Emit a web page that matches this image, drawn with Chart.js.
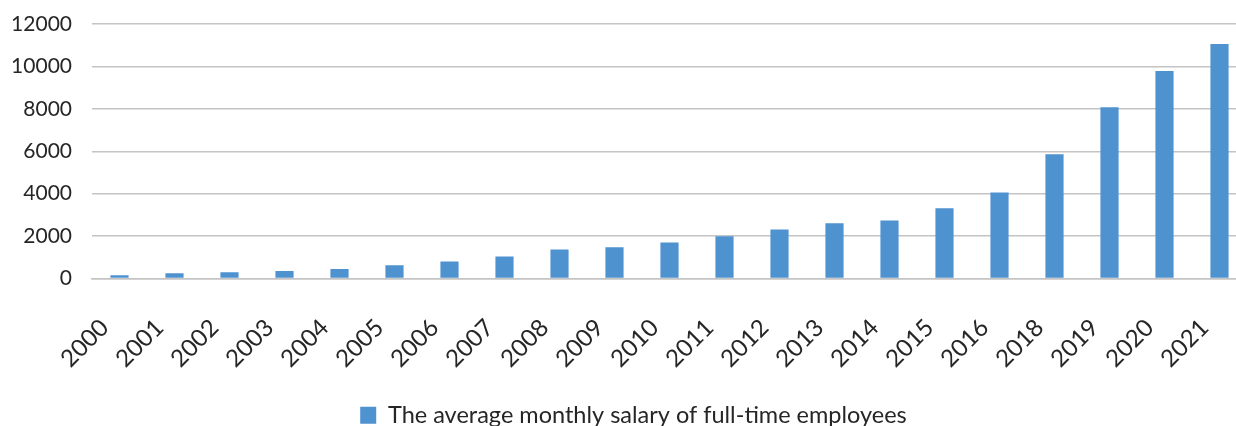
<!DOCTYPE html>
<html>
<head>
<meta charset="utf-8">
<script src="https://cdn.jsdelivr.net/npm/chart.js@4.4.1/dist/chart.umd.min.js"></script>
<style>
    html, body { margin: 0; padding: 0; background: #ffffff; overflow: hidden; }
    .chart-box { width: 1247px; height: 426px; }
</style>
</head>
<body>

<div class="chart-box">
    <canvas id="salaryChart"></canvas>
</div>

<script>

/* =========================
   DATA
========================= */

const years = [
    "2000", "2001", "2002", "2003", "2004", "2005", "2006",
    "2007", "2008", "2009", "2010", "2011", "2012", "2013",
    "2014", "2015", "2016", "2018", "2019", "2020", "2021"
];

const salary = [
    150, 250, 300, 350, 450, 620, 800,
    1040, 1370, 1470, 1700, 1990, 2310, 2600,
    2740, 3310, 4060, 5860, 8080, 9780, 11060
];

const seriesLabel = "The average monthly salary of full-time employees";

const yTicks = [0, 2000, 4000, 6000, 8000, 10000, 12000];

/* =========================
   LEGEND SHIFT
========================= */

const legendShift = {
    id: "legendShift",
    afterLayout(chart){
        chart.legend.left += 10;
        chart.legend.right += 10;
        chart.legend.top += 11;
        chart.legend.bottom += 11;
    }
};

/* =========================
   CHART
========================= */

const textColor = "#262626";
const gridColor = "#c4c4c4";

new Chart(document.getElementById("salaryChart"), {

    type: "bar",

    data: {
        labels: years,
        datasets: [{
            label: seriesLabel,
            data: salary,
            backgroundColor: "#4e92d0",
            borderWidth: 0,
            categoryPercentage: 1,
            barPercentage: 0.33
        }]
    },

    options: {

        responsive: true,
        maintainAspectRatio: false,
        animation: false,

        layout: {
            padding: { top: 24, right: 0, bottom: 0, left: 0 }
        },

        plugins: {
            tooltip: { enabled: false },
            legend: {
                position: "bottom",
                labels: {
                    color: textColor,
                    font: { family: "Lato", size: 23.5 },
                    boxWidth: 16,
                    boxHeight: 17,
                    padding: 6
                }
            }
        },

        scales: {

            x: {
                grid: { display: false },
                border: { color: gridColor, width: 1.5 },
                ticks: {
                    color: textColor,
                    font: { family: "Lato", size: 24 },
                    maxRotation: 45,
                    minRotation: 45,
                    labelOffset: -15,
                    padding: 27,
                    autoSkip: false
                },
                afterFit(scale){
                    scale.height = 108;
                    scale.paddingLeft = 0;
                    scale.paddingRight = 0;
                }
            },

            y: {
                min: yTicks[0],
                max: yTicks[yTicks.length - 1],
                afterBuildTicks(scale){
                    scale.ticks = yTicks.map(v => ({ value: v }));
                },
                grid: {
                    color: gridColor,
                    lineWidth: 1.5,
                    drawTicks: false
                },
                border: { display: false },
                ticks: {
                    color: textColor,
                    font: { family: "Lato", size: 21 },
                    padding: 20,
                    callback: v => String(v)
                },
                afterFit(scale){
                    scale.width = 92;
                    scale.paddingTop = 0;
                    scale.paddingBottom = 0;
                }
            }

        }

    },

    plugins: [legendShift]

});

</script>
</body>
</html>
